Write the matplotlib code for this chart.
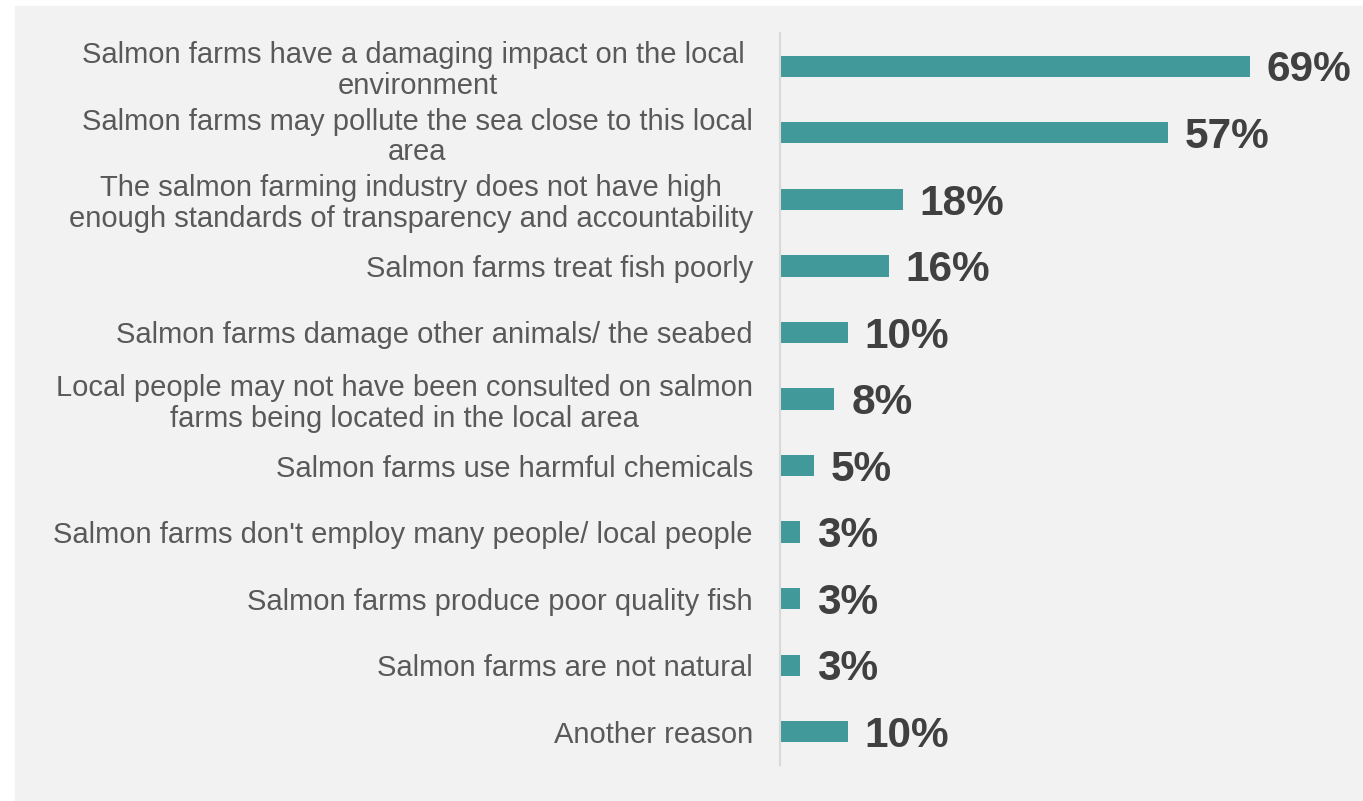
import matplotlib.pyplot as plt
from matplotlib.patches import Rectangle

reasons = [
    "Salmon farms have a damaging impact on the local \nenvironment",
    "Salmon farms may pollute the sea close to this local\narea",
    "The salmon farming industry does not have high\nenough standards of transparency and accountability",
    "Salmon farms treat fish poorly",
    "Salmon farms damage other animals/ the seabed",
    "Local people may not have been consulted on salmon\nfarms being located in the local area",
    "Salmon farms use harmful chemicals",
    "Salmon farms don't employ many people/ local people",
    "Salmon farms produce poor quality fish",
    "Salmon farms are not natural",
    "Another reason",
]
shares = [69, 57, 18, 16, 10, 8, 5, 3, 3, 3, 10]

plt.rcParams['font.family'] = ['Liberation Sans', 'DejaVu Sans']

fig = plt.figure(figsize=(13.63, 8.01), dpi=100)
fig.patch.set_facecolor('white')
# grey panel behind everything
fig.patches.append(Rectangle((15 / 1363, -0.01), 1.1, 1.01 - 6 / 801,
                             transform=fig.transFigure, color='#f2f2f2', zorder=-1))

ax = fig.add_axes([780 / 1363, 36 / 801, 545 / 1363, 732 / 801])
ax.set_facecolor('none')

pos = list(range(len(shares)))
ax.barh(pos, shares, height=0.32, color='#429999', zorder=2)
ax.set_ylim(len(shares) - 0.5, -0.5)
ax.set_xlim(0, 80)

for y, v in zip(pos, shares):
    ax.annotate(f"{v}%", (v, y), xytext=(12, -3), textcoords='offset points',
                va='center', ha='left', fontsize=30.5, fontweight='bold',
                color='#404040', annotation_clip=False)

ax.set_yticks(pos)
ax.set_yticklabels(reasons, fontsize=21, color='#595959',
                   multialignment='center', linespacing=1.12)
ax.tick_params(axis='y', length=0, pad=19.5)
ax.set_xticks([])
for side in ['top', 'right', 'bottom']:
    ax.spines[side].set_visible(False)
ax.spines['left'].set_color('#d9d9d9')
ax.spines['left'].set_linewidth(1.5)

fig.savefig('out.png', dpi=100, facecolor=fig.get_facecolor())
